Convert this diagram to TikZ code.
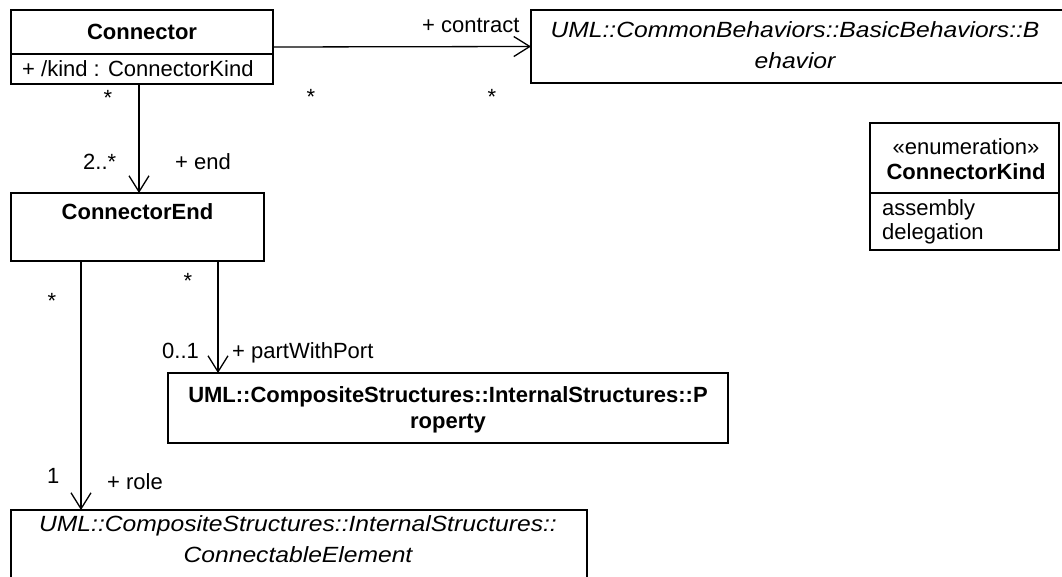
\documentclass[tikz,border=0pt]{standalone}
\usepackage{fontspec}
\setmainfont{Liberation Sans}
\newfontfamily\umlit{Liberation Sans}[FakeStretch=1.12]
\usetikzlibrary{arrows.meta}
\tikzset{
  umlbox/.style={draw, line width=1.5pt, rectangle, inner sep=0pt, outer sep=0pt},
  sepline/.style={line width=1.5pt},
  assoc/.style={line width=1.3pt, -{Straight Barb[length=16pt,width=20pt,line width=1.3pt]}},
  lbl/.style={inner sep=0pt, anchor=base, font=\fontsize{22}{26}\selectfont},
  lblw/.style={lbl, anchor=base west},
  title/.style={lbl, font=\fontsize{22}{26}\selectfont\bfseries},
  ititle/.style={lbl, font=\fontsize{22}{26}\selectfont\umlit\itshape},
}
\begin{document}
\begin{tikzpicture}[x=1pt,y=-1pt]
\useasboundingbox (0,0) rectangle (1062,577);

% class boxes
\node[umlbox, minimum width=262pt, minimum height=74pt] (conn) at (142,47) {};
\node[umlbox, minimum width=532pt, minimum height=73pt] (beh) at (797,46.5) {};
\node[umlbox, minimum width=253pt, minimum height=68pt] (cend) at (137.5,227) {};
\node[umlbox, minimum width=560pt, minimum height=70pt] (prop) at (448,408) {};
\node[umlbox, minimum width=576pt, minimum height=90pt] (celem) at (299,555) {};
\node[umlbox, minimum width=189pt, minimum height=127pt] (enum) at (964.5,186.5) {};

% compartment separators
\draw[sepline] ([yshift=-44pt]conn.north west) -- ([yshift=-44pt]conn.north east);
\draw[sepline] ([yshift=-70pt]enum.north west) -- ([yshift=-70pt]enum.north east);

% class texts
\node[title] (connName) at (142,40) {Connector};
\node[lblw] (connAttr) at (22,77) {+ /kind : ConnectorKind};
\node[ititle] (behA) at (795,38) {UML::CommonBehaviors::BasicBehaviors::B};
\node[ititle] (behB) at (795,69) {ehavior};
\node[title] (cendName) at (137.5,220) {ConnectorEnd};
\node[title] (propA) at (448,402) {UML::CompositeStructures::InternalStructures::P};
\node[title] (propB) at (448,428) {roperty};
\node[ititle] (celemA) at (298,531) {UML::CompositeStructures::InternalStructures::};
\node[ititle] (celemB) at (298,562) {ConnectableElement};
\node[lbl] (enumSt) at (966,155) {«enumeration»};
\node[title] (enumName) at (966,180) {ConnectorKind};
\node[lblw] (litA) at (882,216) {assembly};
\node[lblw] (litB) at (882,240) {delegation};

% associations
\coordinate (xend) at (139,0);
\coordinate (xpwp) at (218,0);
\coordinate (xrole) at (81,0);
\draw[assoc] (conn.east) -- (beh.west);
\draw[assoc] (conn.south -| xend) -- (cend.north -| xend);
\draw[assoc] (cend.south -| xpwp) -- (prop.north -| xpwp);
\draw[assoc] (cend.south -| xrole) -- (celem.north -| xrole);

% role names and multiplicities
\node[lblw] (mContract) at (422,33) {+ contract};
\node[lbl] (sA) at (108,106) {*};
\node[lbl] (sB) at (311,105) {*};
\node[lbl] (sC) at (492,105) {*};
\node[lblw] (mEnd) at (83,170) {2..*};
\node[lblw] (rEnd) at (175,170) {+ end};
\node[lbl] (sD) at (188,288) {*};
\node[lbl] (sE) at (52,308) {*};
\node[lblw] (mPwp) at (162,358) {0..1};
\node[lblw] (rPwp) at (232,358) {+ partWithPort};
\node[lblw] (mRole) at (47,483) {1};
\node[lblw] (rRole) at (107,489) {+ role};
\end{tikzpicture}
\end{document}
